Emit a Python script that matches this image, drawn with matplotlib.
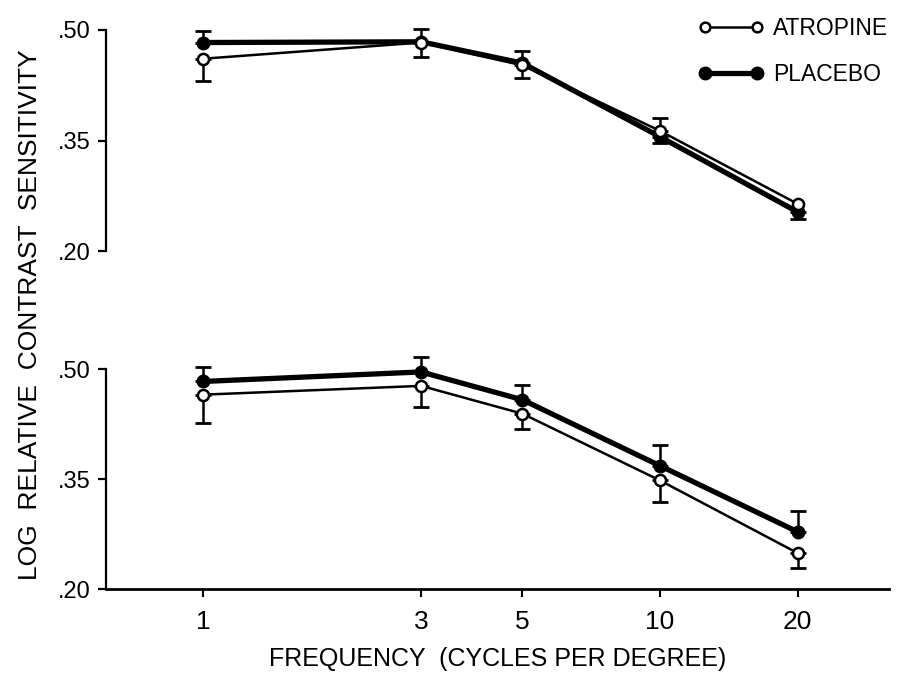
import numpy as np
import matplotlib.pyplot as plt
from matplotlib.lines import Line2D

# spatial frequency, cycles per degree
freq = np.array([1, 3, 5, 10, 20])

# upper panel
atr_top = np.array([0.461, 0.483, 0.452, 0.363, 0.264])
atr_top_lo = np.array([0.030, 0.020, 0.017, 0.0, 0.0])
atr_top_hi = np.array([0.0, 0.0, 0.0, 0.018, 0.0])
plc_top = np.array([0.483, 0.484, 0.455, 0.355, 0.253])
plc_top_lo = np.array([0.0, 0.0, 0.0, 0.009, 0.009])
plc_top_hi = np.array([0.015, 0.017, 0.016, 0.0, 0.0])

# lower panel
atr_bot = np.array([0.465, 0.477, 0.439, 0.348, 0.249])
atr_bot_lo = np.array([0.038, 0.029, 0.021, 0.030, 0.021])
atr_bot_hi = np.array([0.0, 0.0, 0.0, 0.0, 0.0])
plc_bot = np.array([0.483, 0.496, 0.458, 0.368, 0.278])
plc_bot_lo = np.array([0.0, 0.0, 0.0, 0.0, 0.0])
plc_bot_hi = np.array([0.020, 0.021, 0.020, 0.028, 0.028])

yticks = [0.20, 0.35, 0.50]
ytick_labels = ['.20', '.35', '.50']
xticks = [1, 3, 5, 10, 20]
xtick_labels = ['1', '3', '5', '10', '20']

REG = ['Liberation Sans', 'DejaVu Sans']


def errbars(ax, y, lo, hi):
    keep = (lo > 0) | (hi > 0)
    if keep.any():
        ax.errorbar(freq[keep], y[keep], yerr=[lo[keep], hi[keep]], fmt='none',
                    ecolor='black', elinewidth=1.8, capsize=5.5, capthick=2.0,
                    zorder=2, clip_on=False)


def panel(ax, atr, atr_lo, atr_hi, plc, plc_lo, plc_hi, bottom):
    ax.set_xscale('log')
    ax.set_xlim(0.613, 31.7)
    ax.set_ylim(0.20, 0.50)

    errbars(ax, plc, plc_lo, plc_hi)
    errbars(ax, atr, atr_lo, atr_hi)
    ax.plot(freq, plc, '-o', color='black', lw=3.8, ms=9, zorder=3, clip_on=False)
    ax.plot(freq, atr, '-o', color='black', lw=1.8, ms=8, mfc='white',
            mec='black', mew=1.8, zorder=4, clip_on=False)

    for s in ['top', 'right']:
        ax.spines[s].set_visible(False)
    ax.spines['left'].set_linewidth(1.6)
    ax.set_yticks(yticks)
    ax.set_yticklabels(ytick_labels, family=REG, fontsize=17)
    ax.tick_params(axis='y', direction='out', length=6, width=1.6, pad=5)
    ax.minorticks_off()
    if bottom:
        ax.spines['bottom'].set_linewidth(2.0)
        ax.set_xticks(xticks)
        ax.set_xticklabels(xtick_labels, family=REG, fontsize=19)
        ax.tick_params(axis='x', which='both', direction='out', length=6,
                       width=1.5, pad=9)
        ax.tick_params(axis='x', which='minor', length=0)
    else:
        ax.spines['bottom'].set_visible(False)
        ax.set_xticks([])
        ax.tick_params(axis='x', which='both', length=0, labelbottom=False)


fig = plt.figure(figsize=(8.98, 6.75), dpi=100)
ax1 = fig.add_axes([106 / 898, 1 - 251 / 675, 783 / 898, 221 / 675])
ax2 = fig.add_axes([106 / 898, 1 - 589 / 675, 783 / 898, 220 / 675])

panel(ax1, atr_top, atr_top_lo, atr_top_hi, plc_top, plc_top_lo, plc_top_hi, False)
panel(ax2, atr_bot, atr_bot_lo, atr_bot_hi, plc_bot, plc_bot_lo, plc_bot_hi, True)
ax2.minorticks_off()

fig.text(30 / 898, 1 - 315 / 675, 'LOG  RELATIVE  CONTRAST  SENSITIVITY',
         rotation=90, ha='center', va='center', family=REG, fontsize=19)
fig.text(498 / 898, 1 - 659 / 675, 'FREQUENCY  (CYCLES PER DEGREE)',
         ha='center', va='center', family=REG, fontsize=18)

handles = [
    Line2D([], [], color='black', lw=1.8, marker='o', ms=7, mfc='white',
           mec='black', mew=1.8),
    Line2D([], [], color='black', lw=3.8, marker='o', ms=9),
]
fig.legend(handles, ['ATROPINE', 'PLACEBO'], loc='upper left',
           bbox_to_anchor=(698 / 898, 1 - 17 / 675), frameon=False,
           numpoints=2, handlelength=2.87, handletextpad=0.39,
           labelspacing=1.0, borderpad=0, borderaxespad=0,
           prop={'family': REG, 'size': 16.5})

fig.savefig('out.png', dpi=100)
